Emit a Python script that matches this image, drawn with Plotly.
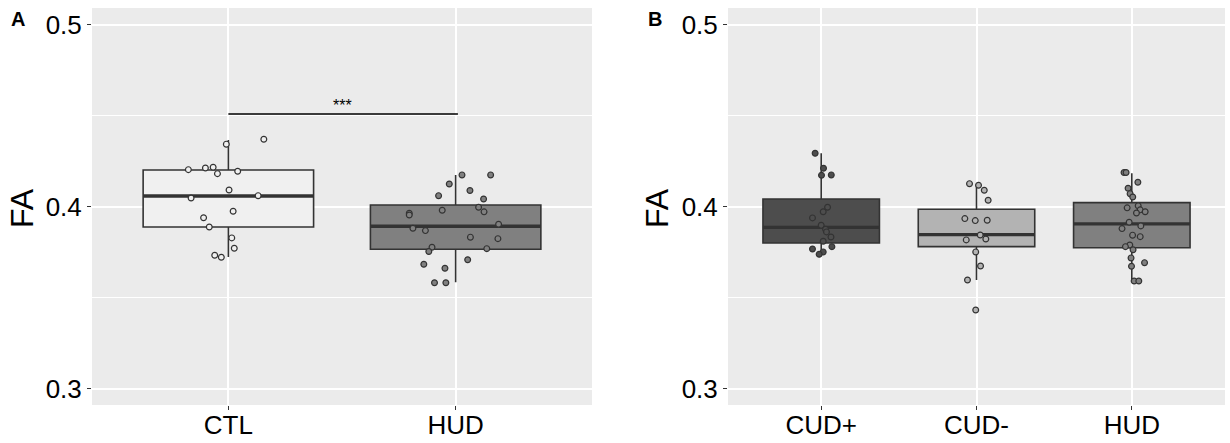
import plotly.graph_objects as go

# ---------------- data ----------------
# Panel A
cats_a = ["CTL", "HUD"]
fills_a = ["#f0f0f0", "#808080"]
q1_a = [0.3890, 0.3768]
med_a = [0.4060, 0.3894]
q3_a = [0.4203, 0.4011]
lo_a = [0.3725, 0.3586]
hi_a = [0.4368, 0.4176]

ctl_vals = [0.4205, 0.4214, 0.4218, 0.4183, 0.4196, 0.4093, 0.4049, 0.4062, 0.3976,
            0.3941, 0.3890, 0.3830, 0.3773, 0.3735, 0.3724, 0.4345, 0.4372]
ctl_jit = [-0.176, -0.101, -0.067, -0.048, 0.041, 0.003, -0.164, 0.131, 0.021,
           -0.109, -0.084, 0.015, 0.026, -0.060, -0.031, -0.009, 0.156]
hudA_vals = [0.4176, 0.4176, 0.4126, 0.4090, 0.4062, 0.4044, 0.3998, 0.3973, 0.3982,
             0.3965, 0.3956, 0.3905, 0.3883, 0.3870, 0.3834, 0.3826, 0.3779, 0.3755,
             0.3771, 0.3710, 0.3685, 0.3663, 0.3584, 0.3584]
hudA_jit = [0.028, 0.154, -0.028, 0.063, -0.075, 0.123, 0.101, 0.125, -0.059,
            -0.204, -0.204, 0.189, -0.188, -0.133, 0.065, 0.186, -0.104, -0.118,
            0.137, 0.053, -0.140, -0.047, -0.093, -0.043]
sig_y = 0.4511
sig_label = "***"

# Panel B
cats_b = ["CUD+", "CUD-", "HUD"]
fills_b = ["#4d4d4d", "#b3b3b3", "#808080"]
q1_b = [0.3802, 0.3782, 0.3776]
med_b = [0.3888, 0.3848, 0.3907]
q3_b = [0.4044, 0.3987, 0.4024]
lo_b = [0.3736, 0.3599, 0.3593]
hi_b = [0.4295, 0.4121, 0.4185]

cudp_vals = [0.4295, 0.4213, 0.4174, 0.4176, 0.3998, 0.3974, 0.3940, 0.3899,
             0.3877, 0.3863, 0.3835, 0.3812, 0.3782, 0.3769, 0.3753, 0.3740]
cudp_jit = [-0.039, 0.015, 0.002, 0.065, 0.041, 0.013, -0.056, 0.0,
            0.028, 0.034, 0.063, 0.013, 0.069, -0.056, 0.013, -0.013]
cudm_vals = [0.4128, 0.4119, 0.4092, 0.4037, 0.3936, 0.3925, 0.3927, 0.3846,
             0.3824, 0.3819, 0.3753, 0.3676, 0.3599, 0.3434]
cudm_jit = [-0.045, 0.013, 0.050, 0.075, -0.075, -0.008, 0.069, 0.024,
            0.060, -0.066, -0.005, 0.026, -0.058, -0.005]
hudB_vals = [0.4189, 0.4189, 0.4136, 0.4103, 0.4073, 0.4055, 0.4007, 0.3995, 0.3984,
             0.3974, 0.3967, 0.3916, 0.3896, 0.3881, 0.3845, 0.3837, 0.3791, 0.3782,
             0.3765, 0.3720, 0.3694, 0.3674, 0.3593, 0.3593]
hudB_jit = [-0.050, -0.037, 0.039, -0.024, -0.011, 0.006, 0.041, -0.030, 0.054,
            0.086, 0.030, -0.017, 0.058, -0.063, 0.005, 0.054, -0.013, -0.041,
            0.008, -0.005, 0.082, -0.002, 0.015, 0.045]

y_ticks = [0.3, 0.4, 0.5]
y_range = [0.2912, 0.5093]

# ---------------- style ----------------
EDGE = "#333333"
BG = "#ebebeb"
FONT = "Liberation Sans, Arial, sans-serif"
BOXW = 0.75

fig = go.Figure()


def add_panel(cats, fills, q1, med, q3, lo, hi, pts, xa, ya):
    for i, c in enumerate(cats):
        fig.add_trace(go.Box(
            x=[i], q1=[q1[i]], median=[med[i]], q3=[q3[i]],
            lowerfence=[lo[i]], upperfence=[hi[i]],
            fillcolor=fills[i], line=dict(color=EDGE, width=1.6),
            whiskerwidth=0, boxpoints=False, width=BOXW,
            xaxis=xa, yaxis=ya, showlegend=False, hoverinfo="skip"))
        # thicker median line like ggplot
        fig.add_trace(go.Scatter(
            x=[i - BOXW / 2, i + BOXW / 2], y=[med[i], med[i]], mode="lines",
            line=dict(color=EDGE, width=3.4), xaxis=xa, yaxis=ya,
            showlegend=False, hoverinfo="skip"))
    for i, (vals, jit) in enumerate(pts):
        fig.add_trace(go.Scatter(
            x=[i + j for j in jit], y=vals, mode="markers",
            marker=dict(size=5.8, color=fills[i], line=dict(color=EDGE, width=1.2)),
            xaxis=xa, yaxis=ya, showlegend=False, hoverinfo="skip"))


add_panel(cats_a, fills_a, q1_a, med_a, q3_a, lo_a, hi_a,
          [(ctl_vals, ctl_jit), (hudA_vals, hudA_jit)], "x", "y")
add_panel(cats_b, fills_b, q1_b, med_b, q3_b, lo_b, hi_b,
          [(cudp_vals, cudp_jit), (cudm_vals, cudm_jit), (hudB_vals, hudB_jit)], "x2", "y2")

# significance bar
fig.add_trace(go.Scatter(x=[0, 1.01], y=[sig_y, sig_y], mode="lines",
                         line=dict(color="black", width=1.6), xaxis="x", yaxis="y",
                         showlegend=False, hoverinfo="skip"))
fig.add_annotation(x=0.5, y=sig_y, xref="x", yref="y", text=sig_label, showarrow=False,
                   yanchor="bottom", yshift=-2, font=dict(family=FONT, size=16, color="black"))

xcommon = dict(tickmode="array", showgrid=True, gridcolor="white", gridwidth=1.6,
               zeroline=False, showline=False, ticks="outside", ticklen=4, tickwidth=1,
               tickcolor=EDGE, tickfont=dict(family=FONT, size=26, color="black"),
               ticklabelstandoff=-7, fixedrange=True)
ycommon = dict(range=y_range, tickvals=y_ticks, ticktext=[f"{v:.1f}" for v in y_ticks],
               showgrid=True, gridcolor="white", gridwidth=1.6, zeroline=False,
               showline=False, ticks="outside", ticklen=4, tickwidth=1, tickcolor=EDGE,
               tickfont=dict(family=FONT, size=26, color="black"),
               minor=dict(tickvals=[0.35, 0.45], showgrid=True, gridcolor="white",
                          gridwidth=0.8, ticks=""))

fig.update_layout(
    width=1230, height=443, margin=dict(l=0, r=0, t=0, b=0),
    paper_bgcolor="white", plot_bgcolor=BG, boxmode="overlay",
    xaxis=dict(domain=[92 / 1230, 592 / 1230], range=[-0.6, len(cats_a) - 0.4],
               tickvals=list(range(len(cats_a))), ticktext=cats_a, anchor="y", **xcommon),
    yaxis=dict(domain=[1 - 405 / 443, 1 - 8 / 443], anchor="x", **ycommon),
    xaxis2=dict(domain=[728 / 1230, 1225 / 1230], range=[-0.6, len(cats_b) - 0.4],
                tickvals=list(range(len(cats_b))), ticktext=cats_b, anchor="y2", **xcommon),
    yaxis2=dict(domain=[1 - 405 / 443, 1 - 8 / 443], anchor="x2", **ycommon),
)

# axis titles and panel tags
for xp, tag_x, tag in [(22, 18, "A"), (657, 655, "B")]:
    fig.add_annotation(x=xp / 1230, y=1 - 208 / 443, xref="paper", yref="paper",
                       xanchor="center", yanchor="middle",
                       text="FA", textangle=-90, showarrow=False,
                       font=dict(family=FONT, size=32, color="black"))
    fig.add_annotation(x=tag_x / 1230, y=1 - 19 / 443, xref="paper", yref="paper",
                       xanchor="center", yanchor="middle",
                       text=f"<b>{tag}</b>", showarrow=False,
                       font=dict(family=FONT, size=20, color="black"))

fig.write_html("out.html")
